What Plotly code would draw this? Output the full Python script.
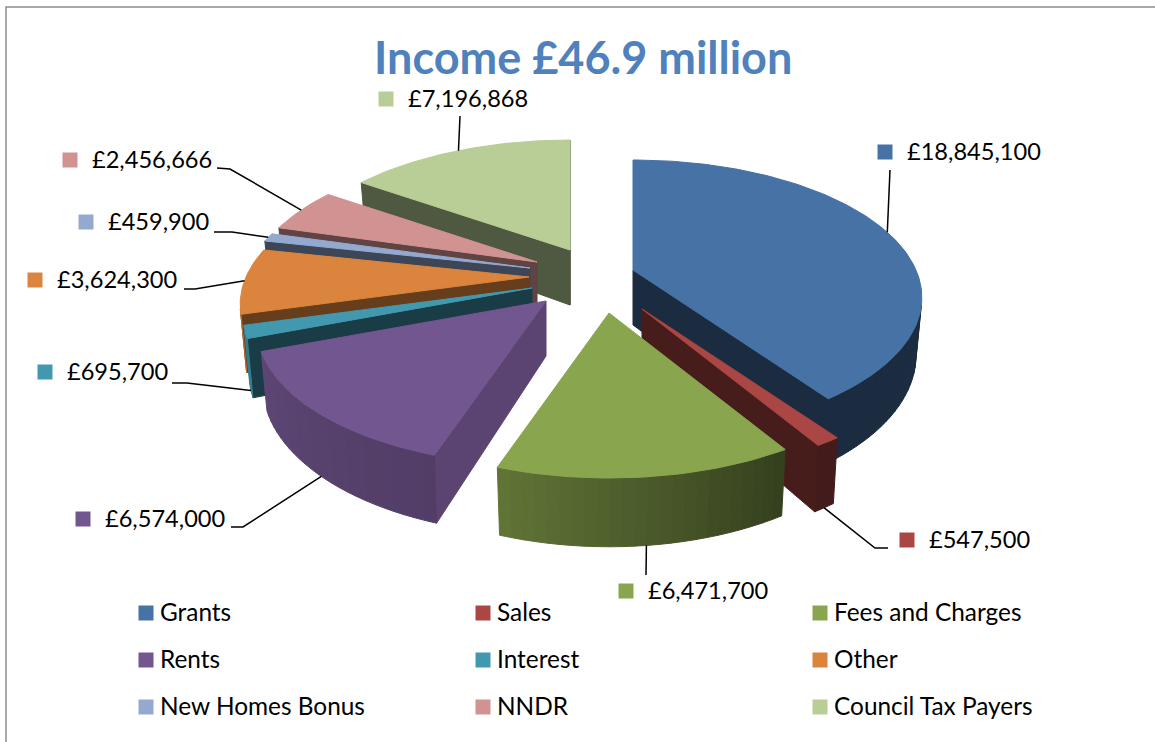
import numpy as np
import plotly.graph_objects as go

CATEGORIES = ['Grants', 'Sales', 'Fees and Charges', 'Rents', 'Interest', 'Other',
              'New Homes Bonus', 'NNDR', 'Council Tax Payers']
VALUES = [18845100, 547500, 6471700, 6574000, 695700, 3624300, 459900, 2456666, 7196868]
COLORS = ['#4672A6', '#AA4643', '#89A54E', '#72568F', '#4198AF', '#DB843D',
          '#93A9CF', '#D19392', '#B9CD96']
# how dark the flat cut faces of each slice are
SIDE_SHADE = [0.39, 0.42, 0.42, 0.80, 0.40, 0.47, 0.42, 0.46, 0.43]

TITLE = 'Income £46.9 million'

# where each exploded slice has its tip on screen, pixels
APEX_X = [633, 642, 609, 546, 532, 529, 530, 537, 570]
APEX_Y = [270, 309, 313, 301, 288, 277, 268, 262, 250]

# pie projection, pixels
RX, RY = 283, 132
PERSP = 0.2
DEPTH = 55
BOTTOM_SHRINK = 0.98

# value label layout: text left, text y, leader points after the rim, leader from bottom rim?
LABEL_X = [907, 929, 648, 105, 67, 57, 108, 92, 408]
LABEL_Y = [152, 540, 591, 519, 372, 280, 222, 160, 99]
LEADERS = [[(890, 170)], [(875, 548), (888, 548)], [(646, 575)], [(243, 527), (231, 527)],
           [(187, 383), (172, 383)], [(195, 289), (184, 289)], [(232, 232), (214, 232)],
           [(230, 169), (217, 168)], [(460, 116)]]
LEADER_BOTTOM = [False, True, True, True, True, False, False, False, False]

LEGEND_X = [139, 476, 813]
LEGEND_Y = [613, 660, 707]


def shade(hex_color, k):
    r, g, b = [int(hex_color[i:i + 2], 16) for i in (1, 3, 5)]
    return f'rgb({int(r * k)},{int(g * k)},{int(b * k)})'


def rim_shade(deg):
    # curved wall gets lighter going round from the right to the left
    return float(np.interp(deg, [0, 150, 200, 250, 360], [0.39, 0.39, 0.72, 0.82, 0.82]))


def signed_area(xs, ys):
    total = 0
    for i in range(len(xs)):
        j = (i + 1) % len(xs)
        total += xs[i] * ys[j] - xs[j] * ys[i]
    return total


def add_poly(fig, xs, ys, color):
    fig.add_trace(go.Scatter(x=list(xs) + [xs[0]], y=list(ys) + [ys[0]], mode='lines', fill='toself',
                             fillcolor=color, line=dict(color=color, width=1),
                             hoverinfo='skip', showlegend=False))


total = sum(VALUES)
edges = np.concatenate([[0], np.cumsum(VALUES)]) / total * 360
mids = (edges[:-1] + edges[1:]) / 2

fig = go.Figure()


def rim_point(i, deg, bottom=False):
    u, v = np.sin(np.radians(deg)), np.cos(np.radians(deg))
    w = 1 / (1 + PERSP * v)
    dx = RX * u * w
    y = APEX_Y[i] - RY * v * w
    if bottom:
        dx = dx * BOTTOM_SHRINK
        y = y + DEPTH * w
    return APEX_X[i] + dx, y


def draw_slice(i):
    a, b = edges[i], edges[i + 1]
    side = shade(COLORS[i], SIDE_SHADE[i])
    apex_t = (APEX_X[i], APEX_Y[i])
    apex_b = (APEX_X[i], APEX_Y[i] + DEPTH)

    # flat cut faces, only the ones turned towards the viewer
    xs, ys = zip(apex_t, rim_point(i, a), rim_point(i, a, True), apex_b)
    if signed_area(xs, ys) < 0:
        add_poly(fig, xs, ys, side)
    xs, ys = zip(rim_point(i, b), apex_t, apex_b, rim_point(i, b, True))
    if signed_area(xs, ys) < 0:
        add_poly(fig, xs, ys, side)

    # curved wall in thin strips
    n = max(2, int((b - a) / 2))
    steps = np.linspace(a, b, n + 1)
    for d0, d1 in zip(steps[:-1], steps[1:]):
        xs, ys = zip(rim_point(i, d0), rim_point(i, d1), rim_point(i, d1, True), rim_point(i, d0, True))
        if signed_area(xs, ys) < 0:
            add_poly(fig, xs, ys, shade(COLORS[i], rim_shade((d0 + d1) / 2)))

    # top
    pts = [apex_t] + [rim_point(i, d) for d in np.linspace(a, b, n * 2 + 1)]
    xs, ys = zip(*pts)
    add_poly(fig, xs, ys, COLORS[i])


# back to front
for i in np.argsort(-np.cos(np.radians(mids))):
    draw_slice(int(i))

# leader lines
for i in range(len(VALUES)):
    pts = [rim_point(i, mids[i], LEADER_BOTTOM[i])] + LEADERS[i]
    xs, ys = zip(*pts)
    fig.add_trace(go.Scatter(x=xs, y=ys, mode='lines', line=dict(color='#000000', width=1.5),
                             hoverinfo='skip', showlegend=False))

# value labels with colour keys
fig.add_trace(go.Scatter(x=[x - 22 for x in LABEL_X], y=LABEL_Y, mode='markers',
                         marker=dict(symbol='square', size=15, color=COLORS), hoverinfo='skip', showlegend=False))
fig.add_trace(go.Scatter(x=LABEL_X, y=[y + 2 for y in LABEL_Y], mode='text', text=[f'£{v:,}' for v in VALUES],
                         textposition='middle right', textfont=dict(family='Lato', size=23.6, color='#000000'),
                         hoverinfo='skip', showlegend=False))

# legend, three columns
leg_x = [LEGEND_X[i % 3] for i in range(len(CATEGORIES))]
leg_y = [LEGEND_Y[i // 3] for i in range(len(CATEGORIES))]
fig.add_trace(go.Scatter(x=[x + 7 for x in leg_x], y=leg_y, mode='markers',
                         marker=dict(symbol='square', size=15, color=COLORS), hoverinfo='skip', showlegend=False))
fig.add_trace(go.Scatter(x=[x + 21 for x in leg_x], y=[y + 2 for y in leg_y], mode='text', text=CATEGORIES,
                         textposition='middle right', textfont=dict(family='Lato', size=24.4, color='#000000'),
                         hoverinfo='skip', showlegend=False))

# frame of the chart, only top and left are in view
fig.add_trace(go.Scatter(x=[6, 6, 1155], y=[742, 7, 7], mode='lines', line=dict(color='#8C8C8C', width=1.5),
                         hoverinfo='skip', showlegend=False))

fig.add_annotation(x=583, y=57, xref='x', yref='y', text=f'<b>{TITLE}</b>', showarrow=False,
                   font=dict(family='Lato', size=45, color='#4F81BD'))

fig.update_xaxes(range=[0, 1155], visible=False)
fig.update_yaxes(range=[742, 0], visible=False)
fig.update_layout(width=1155, height=742, autosize=False, margin=dict(l=0, r=0, t=0, b=0),
                  paper_bgcolor='white', plot_bgcolor='white', showlegend=False)

fig.write_html("out.html", config=dict(displayModeBar=False),
               post_script="document.body.style.margin='0';document.body.style.overflow='hidden';")
